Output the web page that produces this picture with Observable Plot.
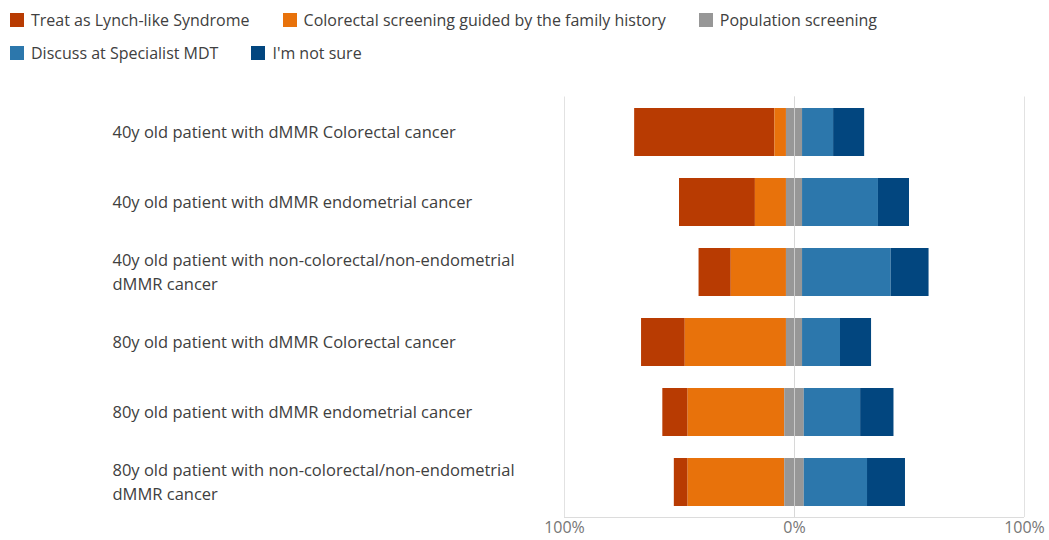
<!DOCTYPE html>
<html><head><meta charset="utf-8">
<script src="https://cdn.jsdelivr.net/npm/d3@7"></script>
<script src="https://cdn.jsdelivr.net/npm/@observablehq/plot@0.6"></script>
<style>
body{margin:0;background:#fff;font-family:"Open Sans",sans-serif;}
#legend{height:85px;position:relative;color:#404040;font-size:16px;}
.row{display:flex;position:absolute;left:10px;gap:33px;align-items:center;height:22px;}
.item{display:flex;align-items:center;white-space:nowrap;}
.sw{width:14px;height:14px;margin-right:7px;}
</style></head><body>
<div id="legend"></div><div id="chart"></div>
<script>
const categories = [
  "40y old patient with dMMR Colorectal cancer",
  "40y old patient with dMMR endometrial cancer",
  "40y old patient with non-colorectal/non-endometrial\ndMMR cancer",
  "80y old patient with dMMR Colorectal cancer",
  "80y old patient with dMMR endometrial cancer",
  "80y old patient with non-colorectal/non-endometrial\ndMMR cancer"
];
const seriesNames = [
  "Treat as Lynch-like Syndrome",
  "Colorectal screening guided by the family history",
  "Population screening",
  "Discuss at Specialist MDT",
  "I'm not sure"
];
const colors = ["#B83B02", "#E8720B", "#979797", "#2C77AC", "#02467F"];
const lynch      = [61, 33, 14, 19, 11, 6];
const colorectal = [5, 13.5, 24, 44, 42, 42];
const population = [7, 7, 7, 7, 8.5, 8.5];
const mdt        = [13.5, 33, 38.5, 16.5, 24.5, 27.5];
const notSure    = [13.5, 13.5, 16.5, 13.5, 14.5, 16.5];
const tickValues = [-100, 0, 100];

// legend
const legendRows = [[0,1,2],[3,4]];
const legend = document.getElementById("legend");
legendRows.forEach((r, ri) => {
  const row = document.createElement("div");
  row.className = "row";
  row.style.top = (ri === 0 ? 9 : 42) + "px";
  r.forEach(i => {
    const it = document.createElement("div");
    it.className = "item";
    const sw = document.createElement("span");
    sw.className = "sw";
    sw.style.background = colors[i];
    it.appendChild(sw);
    it.appendChild(document.createTextNode(seriesNames[i]));
    row.appendChild(it);
  });
  legend.appendChild(row);
});

// diverging rows
const rows = [];
categories.forEach((c, i) => {
  rows.push({label: c, series: seriesNames[0], value: -lynch[i]});
  rows.push({label: c, series: seriesNames[1], value: -colorectal[i]});
  rows.push({label: c, series: seriesNames[2], value: -population[i] / 2});
  rows.push({label: c, series: seriesNames[2], value: population[i] / 2});
  rows.push({label: c, series: seriesNames[3], value: mdt[i]});
  rows.push({label: c, series: seriesNames[4], value: notSure[i]});
});
const stackOrder = [seriesNames[2], seriesNames[1], seriesNames[0], seriesNames[3], seriesNames[4]];

const chart = Plot.plot({
  width: 1049, height: 455,
  marginLeft: 564, marginRight: 25, marginTop: 11.5, marginBottom: 23,
  x: {domain: [-100, 100], axis: null},
  y: {domain: categories, axis: null, paddingInner: 0.32, paddingOuter: 0.16},
  color: {domain: seriesNames, range: colors},
  style: {fontFamily: "'Open Sans', sans-serif", fontSize: "16px", background: "#fff"},
  marks: [
    Plot.ruleX(tickValues, {stroke: "#e2e2e2"}),
    Plot.ruleY([categories[categories.length - 1]], {x1: -100, x2: 100, dy: 35, stroke: "#dcdcdc"}),
    Plot.barX(rows, Plot.stackX({y: "label", x: "value", fill: "series", order: stackOrder})),
    Plot.ruleX([0], {stroke: "#d6d6d6", strokeOpacity: 0.8}),
    Plot.axisX({ticks: tickValues, tickFormat: d => Math.abs(d) + "%", tickSize: 0, tickPadding: 4, fill: "#767676", fontSize: 16, label: null}),
    Plot.text(categories, {y: d => d, text: d => d, frameAnchor: "left", dx: -452, dy: -2, textAnchor: "start", lineHeight: 1.45, fill: "#404040", fontSize: 16.5})
  ]
});
document.getElementById("chart").appendChild(chart);
</script>
</body></html>
